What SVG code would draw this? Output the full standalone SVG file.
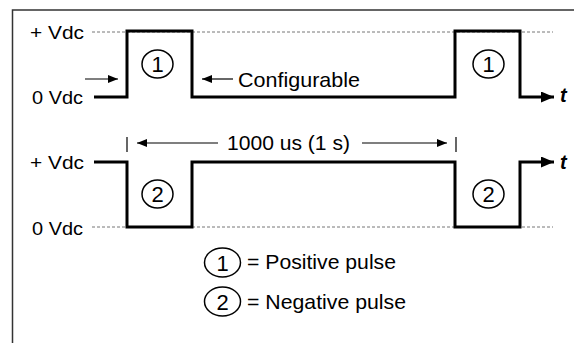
<svg xmlns="http://www.w3.org/2000/svg" width="574" height="343" viewBox="0 0 574 343">
<style>
text{font-family:"Liberation Sans",Arial,sans-serif;font-size:21px;fill:#000}
.lbl{font-size:18px}
.dig{font-size:22px}
.dash{stroke:#777;stroke-width:1;stroke-dasharray:3,2;fill:none}
.wave{stroke:#000;stroke-width:3;fill:none;stroke-linejoin:miter}
.thin{stroke:#000;stroke-width:1.2;fill:none}
.circ{stroke:#000;stroke-width:1.5;fill:none}
.t{font-weight:bold;font-style:italic;font-size:20px}
</style>
<defs>
<marker id="ah" viewBox="0 0 10 8" refX="10" refY="4" markerWidth="10" markerHeight="8" markerUnits="userSpaceOnUse" orient="auto">
<path d="M0,0 L10,4 L0,8 Z" fill="#000"/>
</marker>
<marker id="tah" viewBox="0 0 13 11" refX="13" refY="5.5" markerWidth="13" markerHeight="11" markerUnits="userSpaceOnUse" orient="auto">
<path d="M0,0 L13,5.5 L0,11 Z" fill="#000"/>
</marker>
</defs>
<rect width="574" height="343" fill="#fff"/>
<path d="M12.5,343 V10 H574" stroke="#333" stroke-width="1.5" fill="none"/>

<g id="axes-labels">
<text class="lbl" x="30" y="39" textLength="54" lengthAdjust="spacingAndGlyphs">+ Vdc</text>
<text class="lbl" x="32" y="104" textLength="51" lengthAdjust="spacingAndGlyphs">0 Vdc</text>
<text class="lbl" x="30" y="169" textLength="54" lengthAdjust="spacingAndGlyphs">+ Vdc</text>
<text class="lbl" x="32" y="235" textLength="51" lengthAdjust="spacingAndGlyphs">0 Vdc</text>
</g>

<g id="reference-lines">
<line class="dash" x1="92" y1="32" x2="553" y2="32"/>
<line class="dash" x1="92" y1="227" x2="553" y2="227"/>
</g>

<g id="connectors">
<path id="wave1" class="wave" d="M94,97 H127 V31 H192 V97 H455 V31 H520 V97 H554" marker-end="url(#tah)"/>
<path id="wave2" class="wave" d="M94,162 H127 V227 H192 V162 H455 V227 H520 V162 H554" marker-end="url(#tah)"/>
<line class="thin" x1="85" y1="79" x2="118" y2="79" marker-end="url(#ah)"/>
<line class="thin" x1="233" y1="79" x2="202" y2="79" marker-end="url(#ah)"/>
<line class="thin" x1="127" y1="137" x2="127" y2="152"/>
<line class="thin" x1="456" y1="137" x2="456" y2="152"/>
<line class="thin" x1="218" y1="143" x2="137" y2="143" marker-end="url(#ah)"/>
<line class="thin" x1="362" y1="143" x2="447" y2="143" marker-end="url(#ah)"/>
</g>

<g id="t-labels">
<text class="t" x="560" y="102">t</text>
<text class="t" x="560" y="169">t</text>
</g>

<g id="configurable">
<text x="238" y="87" textLength="122" lengthAdjust="spacingAndGlyphs">Configurable</text>
</g>
<g id="period">
<text x="227" y="150" textLength="123" lengthAdjust="spacingAndGlyphs">1000 us (1 s)</text>
</g>

<g id="pulse1a">
<ellipse class="circ" cx="157.5" cy="64" rx="15.5" ry="14"/>
<text class="dig" x="157.5" y="72" text-anchor="middle">1</text>
</g>
<g id="pulse1b">
<ellipse class="circ" cx="488.5" cy="64" rx="15.5" ry="14"/>
<text class="dig" x="488.5" y="72" text-anchor="middle">1</text>
</g>
<g id="pulse2a">
<ellipse class="circ" cx="157.5" cy="194" rx="15.5" ry="14"/>
<text class="dig" x="157.5" y="202" text-anchor="middle">2</text>
</g>
<g id="pulse2b">
<ellipse class="circ" cx="488.5" cy="194" rx="15.5" ry="14"/>
<text class="dig" x="488.5" y="202" text-anchor="middle">2</text>
</g>

<g id="legend1">
<ellipse class="circ" cx="222.5" cy="262.5" rx="18" ry="14.5"/>
<text class="dig" x="222.5" y="270.5" text-anchor="middle">1</text>
<text x="247" y="269" textLength="149" lengthAdjust="spacingAndGlyphs">= Positive pulse</text>
</g>
<g id="legend2">
<ellipse class="circ" cx="222.5" cy="301.5" rx="18" ry="14.5"/>
<text class="dig" x="222.5" y="309.5" text-anchor="middle">2</text>
<text x="247" y="309" textLength="159" lengthAdjust="spacingAndGlyphs">= Negative pulse</text>
</g>
</svg>
